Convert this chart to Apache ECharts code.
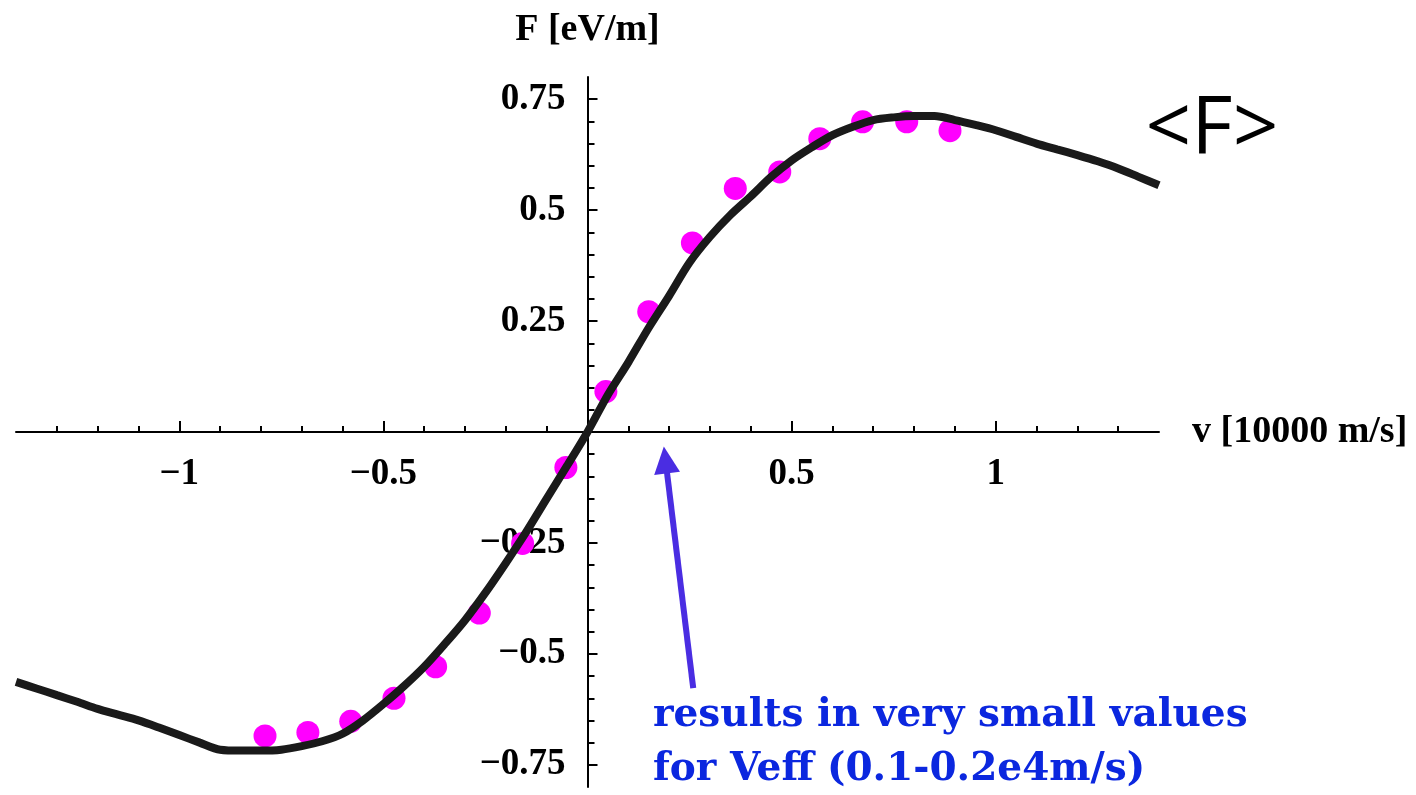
<!DOCTYPE html>
<html>
<head>
<meta charset="utf-8">
<title>F vs v</title>
<script src="https://cdn.jsdelivr.net/npm/echarts@6/dist/echarts.min.js"></script>
<style>
  html, body { margin: 0; padding: 0; background: #fff; }
  #chart { width: 1416px; height: 795px; }
</style>
</head>
<body>
<div id="chart"></div>
<script>
// 曲线 <F>(v)
const curveV = [-1.4, -1.35, -1.3, -1.25, -1.2, -1.15, -1.1, -1.05, -1, -0.95, -0.9, -0.85, -0.8, -0.75, -0.7, -0.65, -0.6, -0.55, -0.5, -0.45, -0.4, -0.35, -0.3, -0.25, -0.2, -0.15, -0.1, -0.05,
  0, 0.05, 0.1, 0.15, 0.2, 0.25, 0.3, 0.35, 0.4, 0.45, 0.5, 0.55, 0.6, 0.65, 0.7, 0.75, 0.8, 0.85, 0.9, 0.95, 1, 1.05, 1.1, 1.15, 1.2, 1.25, 1.3, 1.35, 1.4];
const curveF = [-0.563, -0.578, -0.593, -0.608, -0.624, -0.637, -0.650, -0.666, -0.683, -0.700, -0.716, -0.718, -0.718, -0.716, -0.708, -0.697, -0.680, -0.650, -0.613, -0.573, -0.529, -0.478, -0.424, -0.362, -0.295, -0.225, -0.150, -0.076,
  0, 0.084, 0.157, 0.235, 0.307, 0.382, 0.440, 0.489, 0.531, 0.575, 0.612, 0.642, 0.669, 0.688, 0.703, 0.709, 0.712, 0.712, 0.703, 0.692, 0.680, 0.665, 0.650, 0.637, 0.624, 0.610, 0.594, 0.575, 0.556];

// 粉色的点
const pointV = [-0.790, -0.685, -0.580, -0.474, -0.372, -0.265, -0.159, -0.053, 0.045, 0.150, 0.257, 0.362, 0.471, 0.569, 0.674, 0.782, 0.888];
const pointF = [-0.685, -0.677, -0.652, -0.600, -0.529, -0.408, -0.251, -0.080, 0.091, 0.271, 0.426, 0.549, 0.586, 0.661, 0.699, 0.699, 0.679];

// 刻度
const xMajorTicks = [-1, -0.5, 0.5, 1];
const xMinorTicks = [-1.3, -1.2, -1.1, -0.9, -0.8, -0.7, -0.6, -0.4, -0.3, -0.2, -0.1, 0.1, 0.2, 0.3, 0.4, 0.6, 0.7, 0.8, 0.9, 1.1, 1.2, 1.3];
const yMajorTicks = [-0.75, -0.5, -0.25, 0.25, 0.5, 0.75];
const yMinorTicks = [-0.7, -0.65, -0.6, -0.55, -0.45, -0.4, -0.35, -0.3, -0.2, -0.15, -0.1, -0.05, 0.05, 0.1, 0.15, 0.2, 0.3, 0.35, 0.4, 0.45, 0.55, 0.6, 0.65, 0.7];

// 箭头 (数据坐标)
const arrowFrom = [0.259, -0.577];
const arrowTo = [0.191, -0.063];

const serif = '"Liberation Serif", "Times New Roman", serif';
const minus = v => String(v).replace('-', '\u2212');

const axisLabelStyle = { fontFamily: serif, fontWeight: 'bold', fontSize: 37, color: '#000' };
const lineStyle = { color: '#000', width: 2 };

// 绘图区: 左16 右257 上77 下8, 零点在 (587.5, 432)
// v6 里 onZero 的轴标签会留在 grid 边上, 所以十字轴用半个 grid 来画
const L = 16, R = 257, T = 77, B = 8, X0 = 587.5, Y0 = 432;

function hiddenAxis(gridIndex, min, max) {
  return { gridIndex: gridIndex, type: 'value', min: min, max: max, show: false };
}

let chart = echarts.init(document.getElementById('chart'));

let option = {
  animation: false,
  grid: [
    { left: L, right: R, top: T, bottom: B, outerBoundsMode: 'none' },        // 0 曲线和点
    { left: L, right: R, top: T, bottom: 795 - Y0, outerBoundsMode: 'none' }, // 1 横轴(小刻度,标签)
    { left: L, right: R, top: T, bottom: 795 - Y0, outerBoundsMode: 'none' }, // 2 横轴(大刻度)
    { left: X0, right: R, top: T, bottom: B, outerBoundsMode: 'none' },       // 3 纵轴(小刻度,标签)
    { left: X0, right: R, top: T, bottom: B, outerBoundsMode: 'none' }        // 4 纵轴(大刻度)
  ],
  xAxis: [
    hiddenAxis(0, -1.4, 1.4),
    {
      gridIndex: 1, type: 'value', min: -1.4, max: 1.4, position: 'bottom',
      axisLine: { show: true, onZero: false, lineStyle: lineStyle },
      axisTick: { show: true, inside: true, length: 6, customValues: xMinorTicks, lineStyle: lineStyle },
      axisLabel: Object.assign({ show: true, margin: 24, customValues: xMajorTicks, formatter: minus }, axisLabelStyle),
      splitLine: { show: false },
      name: 'v [10000 m/s]', nameLocation: 'end', nameGap: 33,
      nameTextStyle: { fontFamily: serif, fontWeight: 'bold', fontSize: 38, color: '#000', verticalAlign: 'middle' }
    },
    {
      gridIndex: 2, type: 'value', min: -1.4, max: 1.4, position: 'bottom',
      axisLine: { show: false, onZero: false },
      axisTick: { show: true, inside: true, length: 11, customValues: xMajorTicks, lineStyle: lineStyle },
      axisLabel: { show: false },
      splitLine: { show: false }
    },
    hiddenAxis(3, 0, 1.4),
    hiddenAxis(4, 0, 1.4)
  ],
  yAxis: [
    hiddenAxis(0, -0.8, 0.8),
    hiddenAxis(1, 0, 0.8),
    hiddenAxis(2, 0, 0.8),
    {
      gridIndex: 3, type: 'value', min: -0.8, max: 0.8, position: 'left',
      axisLine: { show: true, onZero: false, lineStyle: lineStyle },
      axisTick: { show: true, inside: true, length: 7, customValues: yMinorTicks, lineStyle: lineStyle },
      axisLabel: Object.assign({ show: true, margin: 22, customValues: yMajorTicks, formatter: minus }, axisLabelStyle),
      splitLine: { show: false },
      name: 'F [eV/m]', nameLocation: 'end', nameGap: 28,
      nameTextStyle: { fontFamily: serif, fontWeight: 'bold', fontSize: 38, color: '#000' }
    },
    {
      gridIndex: 4, type: 'value', min: -0.8, max: 0.8, position: 'left',
      axisLine: { show: false, onZero: false },
      axisTick: { show: true, inside: true, length: 10, customValues: yMajorTicks, lineStyle: lineStyle },
      axisLabel: { show: false },
      splitLine: { show: false }
    }
  ],
  series: [
    {
      name: 'points', type: 'scatter', xAxisIndex: 0, yAxisIndex: 0, z: 2,
      data: pointV.map((v, i) => [v, pointF[i]]),
      symbol: 'circle', symbolSize: 23,
      itemStyle: { color: '#ff00ff', opacity: 1 },
      emphasis: { disabled: true },
      markLine: {
        silent: true,
        symbol: ['none', 'triangle'],
        symbolSize: [26, 27],
        label: { show: false },
        lineStyle: { color: '#4a2de2', width: 6, type: 'solid', opacity: 1 },
        emphasis: { disabled: true },
        data: [[{ coord: arrowFrom }, { coord: arrowTo }]]
      }
    },
    {
      //曲线压在点上面
      name: '<F>', type: 'line', xAxisIndex: 0, yAxisIndex: 0, z: 10,
      data: curveV.map((v, i) => [v, curveF[i]]),
      showSymbol: false,
      smooth: 0.3,
      lineStyle: { color: '#1a1a1a', width: 8 },
      emphasis: { disabled: true }
    }
  ],
  graphic: [
    {
      type: 'text', x: 1212, y: 131,
      style: { text: '<F>', font: '80px "Open Sans", sans-serif', fill: '#000', align: 'center', verticalAlign: 'middle' }
    },
    {
      type: 'text', x: 653, y: 689,
      style: {
        text: 'results in very small values\nfor Veff (0.1-0.2e4m/s)',
        font: 'bold 39px "DejaVu Serif", serif', lineHeight: 54,
        fill: '#0b27df', align: 'left', verticalAlign: 'top'
      }
    }
  ]
};

chart.setOption(option);
</script>
</body>
</html>
